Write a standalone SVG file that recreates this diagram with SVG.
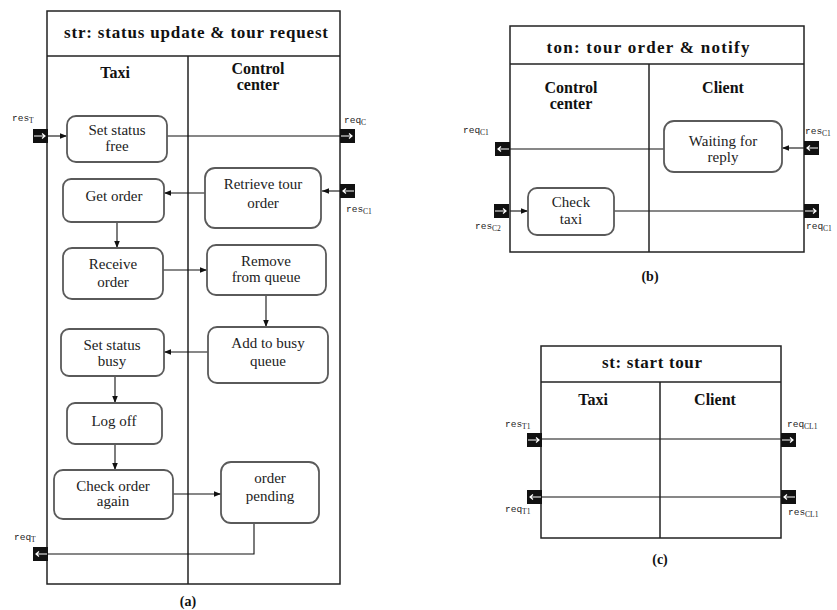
<svg xmlns="http://www.w3.org/2000/svg" width="837" height="610" viewBox="0 0 837 610">
<defs>
<style>
.frame{fill:none;stroke:#222;stroke-width:1.5}
.lane{stroke:#222;stroke-width:1.5}
.node{fill:#fff;stroke:#5a5a5a;stroke-width:1.8}
.c{fill:none;stroke:#111;stroke-width:1.1}
.ca{fill:none;stroke:#111;stroke-width:1.1;marker-end:url(#ah)}
.title{font-family:'Liberation Serif','Times New Roman','DejaVu Serif',serif;font-weight:bold;font-size:17px;text-anchor:middle;fill:#111}
.hdr{font-family:'Liberation Serif','Times New Roman','DejaVu Serif',serif;font-weight:bold;font-size:16px;text-anchor:middle;fill:#111}
.t{font-family:'Liberation Serif','Times New Roman','DejaVu Serif',serif;font-size:15px;text-anchor:middle;fill:#222}
.cap{font-family:'Liberation Serif','Times New Roman','DejaVu Serif',serif;font-weight:bold;font-size:14px;text-anchor:middle;fill:#111}
.pl{font-family:'Liberation Mono','Courier New',monospace;font-size:9.5px;fill:#222}
.sub{font-family:'Liberation Serif','Times New Roman',serif;font-size:7.5px}
</style>
<marker id="ah" viewBox="0 0 10 10" refX="10" refY="5" markerWidth="7" markerHeight="7" markerUnits="userSpaceOnUse" orient="auto">
<path d="M0,1 L10,5 L0,9 z" fill="#111"/>
</marker>
<g id="pinR">
<rect x="0" y="0" width="15" height="14" fill="#111"/>
<path d="M1,7 H12 M9,4.5 L12,7 L9,9.5" fill="none" stroke="#fff" stroke-width="1.2"/>
</g>
<g id="pinL">
<rect x="0" y="0" width="15" height="14" fill="#111"/>
<path d="M14,7 H3 M6,4.5 L3,7 L6,9.5" fill="none" stroke="#fff" stroke-width="1.2"/>
</g>
</defs>
<rect x="0" y="0" width="837" height="610" fill="#fff"/>

<g id="panel-a">
<rect class="frame" x="47" y="11" width="293" height="573"/>
<line class="lane" x1="47" y1="56" x2="340" y2="56"/>
<line class="lane" x1="188" y1="56" x2="188" y2="584"/>
<text class="title" x="196" y="38" textLength="264" lengthAdjust="spacing">str: status update &amp; tour request</text>
<text class="hdr" x="115" y="78">Taxi</text>
<text class="hdr" x="258" y="74">Control</text>
<text class="hdr" x="258" y="90">center</text>
<text class="cap" x="188" y="606">(a)</text>
</g>

<g id="connectors">
<line class="ca" x1="47" y1="136" x2="67" y2="136"/>
<line class="c" x1="167" y1="136" x2="340" y2="136"/>
<line class="ca" x1="340" y1="191" x2="322" y2="191"/>
<line class="ca" x1="205" y1="193" x2="164" y2="193"/>
<line class="ca" x1="117" y1="222" x2="117" y2="248"/>
<line class="ca" x1="163" y1="270" x2="207" y2="270"/>
<line class="ca" x1="266" y1="295" x2="266" y2="327"/>
<line class="ca" x1="208" y1="352" x2="164" y2="352"/>
<line class="ca" x1="115" y1="376" x2="115" y2="403"/>
<line class="ca" x1="115" y1="444" x2="115" y2="470"/>
<line class="ca" x1="173" y1="494" x2="221" y2="494"/>
<polyline class="c" points="254,523 254,554 47,554"/>
<line class="c" x1="664" y1="149" x2="510" y2="149"/>
<line class="ca" x1="804" y1="148" x2="782" y2="148"/>
<line class="ca" x1="510" y1="211" x2="528" y2="211"/>
<line class="c" x1="614" y1="211" x2="804" y2="211"/>
<line class="c" x1="541" y1="439" x2="781" y2="439"/>
<line class="c" x1="781" y1="497" x2="541" y2="497"/>
</g>

<g id="n-set-free"><rect class="node" x="67" y="116" width="100" height="46" rx="9"/><text class="t" x="117" y="135">Set status</text><text class="t" x="117" y="151">free</text></g>
<g id="n-retrieve"><rect class="node" x="205" y="168" width="116" height="60" rx="10"/><text class="t" x="263" y="189">Retrieve tour</text><text class="t" x="263" y="208">order</text></g>
<g id="n-get-order"><rect class="node" x="63" y="179" width="101" height="43" rx="8"/><text class="t" x="114" y="201">Get order</text></g>
<g id="n-receive"><rect class="node" x="63" y="248" width="100" height="51" rx="9"/><text class="t" x="113" y="269">Receive</text><text class="t" x="113" y="287">order</text></g>
<g id="n-remove"><rect class="node" x="207" y="245" width="119" height="50" rx="9"/><text class="t" x="266" y="266">Remove</text><text class="t" x="266" y="282">from queue</text></g>
<g id="n-add-busy"><rect class="node" x="208" y="327" width="120" height="56" rx="9"/><text class="t" x="268" y="348">Add to busy</text><text class="t" x="268" y="366">queue</text></g>
<g id="n-set-busy"><rect class="node" x="61" y="329" width="103" height="47" rx="8"/><text class="t" x="112" y="350">Set status</text><text class="t" x="112" y="366">busy</text></g>
<g id="n-logoff"><rect class="node" x="67" y="403" width="95" height="41" rx="8"/><text class="t" x="114" y="426">Log off</text></g>
<g id="n-check-again"><rect class="node" x="54" y="470" width="119" height="49" rx="9"/><text class="t" x="113" y="491">Check order</text><text class="t" x="113" y="506">again</text></g>
<g id="n-pending"><rect class="node" x="221" y="462" width="98" height="61" rx="10"/><text class="t" x="270" y="483">order</text><text class="t" x="270" y="501">pending</text></g>

<g id="pins-a">
<use href="#pinR" x="33" y="129"/>
<use href="#pinR" x="340" y="129"/>
<use href="#pinL" x="340" y="184"/>
<use href="#pinL" x="33" y="547"/>
<text class="pl" x="12" y="121">res<tspan class="sub" dy="2">T</tspan></text>
<text class="pl" x="344" y="123">req<tspan class="sub" dy="2">C</tspan></text>
<text class="pl" x="346" y="212">res<tspan class="sub" dy="2">C1</tspan></text>
<text class="pl" x="14" y="540">req<tspan class="sub" dy="2">T</tspan></text>
</g>

<g id="panel-b">
<rect class="frame" x="510" y="26" width="294" height="226"/>
<line class="lane" x1="510" y1="64" x2="804" y2="64"/>
<line class="lane" x1="649" y1="64" x2="649" y2="252"/>
<text class="title" x="648" y="53" textLength="203" lengthAdjust="spacing">ton: tour order &amp; notify</text>
<text class="hdr" x="571" y="93">Control</text>
<text class="hdr" x="571" y="109">center</text>
<text class="hdr" x="723" y="93">Client</text>
<text class="cap" x="650" y="281">(b)</text>
</g>
<g id="n-waiting"><rect class="node" x="664" y="121" width="118" height="51" rx="10"/><text class="t" x="723" y="146">Waiting for</text><text class="t" x="723" y="162">reply</text></g>
<g id="n-check-taxi"><rect class="node" x="528" y="188" width="86" height="47" rx="9"/><text class="t" x="571" y="207">Check</text><text class="t" x="571" y="224">taxi</text></g>
<g id="pins-b">
<use href="#pinL" x="495" y="142"/>
<use href="#pinL" x="804" y="141"/>
<use href="#pinR" x="494" y="204"/>
<use href="#pinR" x="804" y="204"/>
<text class="pl" x="463" y="133">req<tspan class="sub" dy="2">C1</tspan></text>
<text class="pl" x="805" y="134">res<tspan class="sub" dy="2">C1</tspan></text>
<text class="pl" x="475" y="229">res<tspan class="sub" dy="2">C2</tspan></text>
<text class="pl" x="806" y="229">req<tspan class="sub" dy="2">C1</tspan></text>
</g>

<g id="panel-c">
<rect class="frame" x="541" y="346" width="240" height="192"/>
<line class="lane" x1="541" y1="382" x2="781" y2="382"/>
<line class="lane" x1="660" y1="382" x2="660" y2="538"/>
<text class="title" x="652" y="368" textLength="100" lengthAdjust="spacing">st: start tour</text>
<text class="hdr" x="593" y="405">Taxi</text>
<text class="hdr" x="715" y="405">Client</text>
<text class="cap" x="660" y="564">(c)</text>
</g>
<g id="pins-c">
<use href="#pinR" x="527" y="433"/>
<use href="#pinR" x="781" y="433"/>
<use href="#pinL" x="527" y="490"/>
<use href="#pinL" x="781" y="490"/>
<text class="pl" x="505" y="427">res<tspan class="sub" dy="2">T1</tspan></text>
<text class="pl" x="787" y="427">req<tspan class="sub" dy="2">CL1</tspan></text>
<text class="pl" x="505" y="512">req<tspan class="sub" dy="2">T1</tspan></text>
<text class="pl" x="788" y="515">res<tspan class="sub" dy="2">CL1</tspan></text>
</g>
</svg>
